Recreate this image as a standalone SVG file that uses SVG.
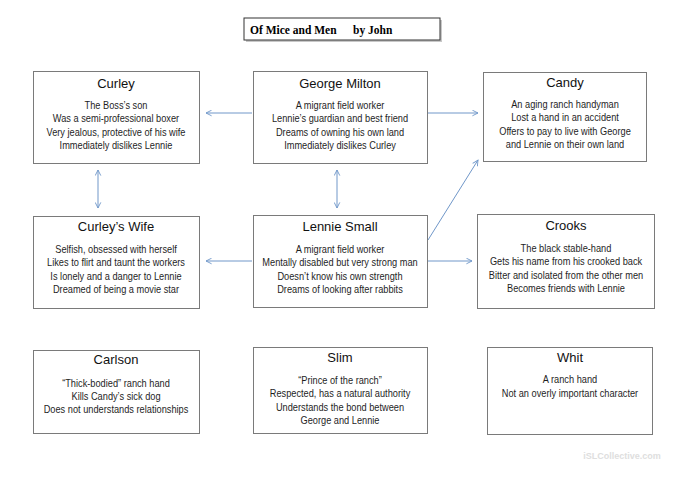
<svg xmlns="http://www.w3.org/2000/svg" width="685" height="485" viewBox="0 0 685 485">
<style>
.box{fill:#fff;stroke:#7a7a7a;stroke-width:1}
.t{font-family:"Liberation Sans",Arial,sans-serif;font-size:13px;text-anchor:middle;fill:#111}
.b{font-family:"Liberation Sans",Arial,sans-serif;font-size:11px;text-anchor:middle;fill:#1e1e1e}
.c{stroke:#7097c9;stroke-width:1;fill:none}
.hd{font-family:"Liberation Serif","Times New Roman",serif;font-size:11.5px;font-weight:bold;fill:#000}
</style>
<defs>
<marker id="ah" viewBox="0 0 10 10" refX="9" refY="5" markerWidth="7" markerHeight="7" orient="auto-start-reverse" markerUnits="userSpaceOnUse">
<path d="M1,1 L9,5 L1,9" fill="none" stroke="#7097c9" stroke-width="1.3"/>
</marker>
</defs>
<rect width="685" height="485" fill="#fff"/>

<g id="title">
<rect x="246" y="20" width="196" height="22" fill="#c8c8c8"/>
<rect x="244" y="18" width="196" height="22" fill="#fff" stroke="#333" stroke-width="1"/>
<text class="hd" x="250" y="33.5">Of Mice and Men</text>
<text class="hd" x="353" y="33.5">by John</text>
</g>

<g id="connectors">
<line class="c" x1="206" y1="113" x2="252" y2="113" marker-start="url(#ah)"/>
<line class="c" x1="428" y1="113" x2="478" y2="113" marker-end="url(#ah)"/>
<line class="c" x1="98" y1="170" x2="98" y2="208" marker-start="url(#ah)" marker-end="url(#ah)"/>
<line class="c" x1="337" y1="170" x2="337" y2="208" marker-start="url(#ah)" marker-end="url(#ah)"/>
<line class="c" x1="428" y1="240" x2="478" y2="160" marker-end="url(#ah)"/>
<line class="c" x1="206" y1="261" x2="252" y2="261" marker-start="url(#ah)"/>
<line class="c" x1="428" y1="261" x2="472" y2="261" marker-end="url(#ah)"/>
</g>

<g id="curley">
<rect class="box" x="33.5" y="71.5" width="166" height="92"/>
<text class="t" x="116" y="88">Curley</text>
<g transform="translate(116,0) scale(0.84,1)">
<text class="b" x="0" y="109">The Boss’s son</text>
<text class="b" x="0" y="122.5">Was a semi-professional boxer</text>
<text class="b" x="0" y="136">Very jealous, protective of his wife</text>
<text class="b" x="0" y="149.5">Immediately dislikes Lennie</text>
</g>
</g>

<g id="george">
<rect class="box" x="253.5" y="71.5" width="174" height="92"/>
<text class="t" x="340" y="88">George Milton</text>
<g transform="translate(340,0) scale(0.84,1)">
<text class="b" x="0" y="109">A migrant field worker</text>
<text class="b" x="0" y="122.5">Lennie’s guardian and best friend</text>
<text class="b" x="0" y="136">Dreams of owning his own land</text>
<text class="b" x="0" y="149.5">Immediately dislikes Curley</text>
</g>
</g>

<g id="candy">
<rect class="box" x="483.5" y="72.5" width="163" height="89"/>
<text class="t" x="565" y="87">Candy</text>
<g transform="translate(565,0) scale(0.84,1)">
<text class="b" x="0" y="108">An aging ranch handyman</text>
<text class="b" x="0" y="121.5">Lost a hand in an accident</text>
<text class="b" x="0" y="135">Offers to pay to live with George</text>
<text class="b" x="0" y="148.5">and Lennie on their own land</text>
</g>
</g>

<g id="curleys-wife">
<rect class="box" x="33.5" y="216.5" width="166" height="92"/>
<text class="t" x="116" y="231">Curley’s Wife</text>
<g transform="translate(116,0) scale(0.84,1)">
<text class="b" x="0" y="253">Selfish, obsessed with herself</text>
<text class="b" x="0" y="266.5">Likes to flirt and taunt the workers</text>
<text class="b" x="0" y="280">Is lonely and a danger to Lennie</text>
<text class="b" x="0" y="293.5">Dreamed of being a movie star</text>
</g>
</g>

<g id="lennie">
<rect class="box" x="253.5" y="215.5" width="174" height="92"/>
<text class="t" x="340" y="231">Lennie Small</text>
<g transform="translate(340,0) scale(0.84,1)">
<text class="b" x="0" y="253">A migrant field worker</text>
<text class="b" x="0" y="266.5">Mentally disabled but very strong man</text>
<text class="b" x="0" y="280">Doesn’t know his own strength</text>
<text class="b" x="0" y="293.5">Dreams of looking after rabbits</text>
</g>
</g>

<g id="crooks">
<rect class="box" x="477.5" y="214.5" width="177" height="94"/>
<text class="t" x="566" y="230">Crooks</text>
<g transform="translate(566,0) scale(0.84,1)">
<text class="b" x="0" y="252">The black stable-hand</text>
<text class="b" x="0" y="265.5">Gets his name from his crooked back</text>
<text class="b" x="0" y="279">Bitter and isolated from the other men</text>
<text class="b" x="0" y="292.5">Becomes friends with Lennie</text>
</g>
</g>

<g id="carlson">
<rect class="box" x="33.5" y="350.5" width="166" height="83"/>
<text class="t" x="116" y="364">Carlson</text>
<g transform="translate(116,0) scale(0.84,1)">
<text class="b" x="0" y="387">“Thick-bodied” ranch hand</text>
<text class="b" x="0" y="400">Kills Candy’s sick dog</text>
<text class="b" x="0" y="413">Does not understands relationships</text>
</g>
</g>

<g id="slim">
<rect class="box" x="253.5" y="347.5" width="174" height="86"/>
<text class="t" x="340" y="362">Slim</text>
<g transform="translate(340,0) scale(0.84,1)">
<text class="b" x="0" y="384">“Prince of the ranch”</text>
<text class="b" x="0" y="397.5">Respected, has a natural authority</text>
<text class="b" x="0" y="411">Understands the bond between</text>
<text class="b" x="0" y="424.5">George and Lennie</text>
</g>
</g>

<g id="whit">
<rect class="box" x="487.5" y="347.5" width="165" height="87"/>
<text class="t" x="570" y="362">Whit</text>
<g transform="translate(570,0) scale(0.84,1)">
<text class="b" x="0" y="383">A ranch hand</text>
<text class="b" x="0" y="397">Not an overly important character</text>
</g>
</g>

<text x="622" y="459" font-family="'Liberation Sans',Arial,sans-serif" font-size="9" font-weight="bold" fill="#dedede" text-anchor="middle">iSLCollective.com</text>
</svg>
